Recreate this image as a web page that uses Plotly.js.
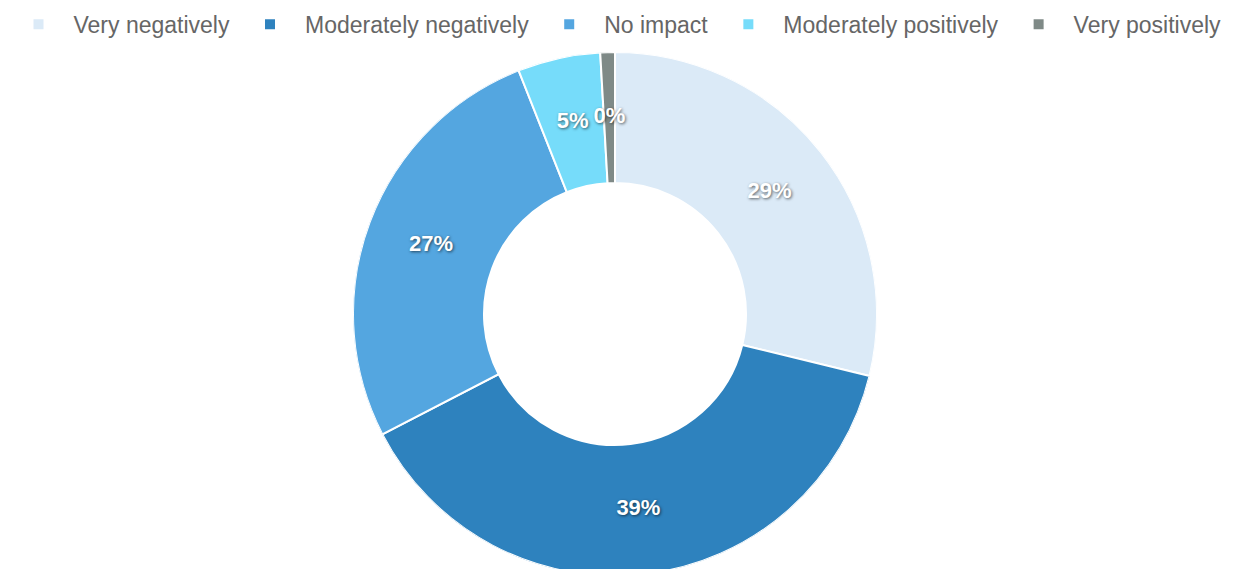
<!DOCTYPE html>
<html>
<head>
<meta charset="utf-8">
<script src="https://cdn.plot.ly/plotly-3.0.1.min.js"></script>
<style>
html,body{margin:0;padding:0;overflow:hidden;background:#fff;}
#chart{width:1235px;height:600px;}
</style>
</head>
<body>
<div id="chart"></div>
<script>
const categories = ["Very negatively", "Moderately negatively", "No impact", "Moderately positively", "Very positively"];
const shares = [28.8, 38.6, 26.6, 5.1, 0.9];
const shareLabels = ["29%", "39%", "27%", "5%", "0%"];
const colors = ["#dbeaf7", "#2e82be", "#54a6e0", "#76dcfa", "#7f8a87"];

const HOLE = 0.5;
const total = shares.reduce((a, b) => a + b, 0);
const midAngles = [], spans = [];
let cum = 0;
for (const s of shares) {
  spans.push(s / total * 360);
  midAngles.push((cum + s / 2) / total * 360);
  cum += s;
}

const traces = categories.map((c, i) => ({
  type: "barpolar",
  name: c,
  theta: [midAngles[i]],
  width: [spans[i]],
  r: [1 - HOLE],
  base: [HOLE],
  marker: { color: colors[i], line: { color: "#ffffff", width: 2 } },
  hoverinfo: "name"
}));

traces.push({
  type: "scatterpolar",
  mode: "text",
  r: shares.map(() => (1 + HOLE) / 2),
  theta: midAngles,
  text: shareLabels,
  textposition: "middle center",
  showlegend: false,
  hoverinfo: "skip",
  textfont: { family: "Liberation Sans, Arial, sans-serif", size: 22, color: "#ffffff", weight: "bold", shadow: "1px 1px 3px rgba(0,0,0,0.6)" }
});

const layout = {
  width: 1235,
  height: 600,
  margin: { l: 0, r: 5, t: 52, b: 24 },
  paper_bgcolor: "#ffffff",
  showlegend: true,
  polar: {
    domain: { x: [0, 1], y: [0, 1] },
    bgcolor: "rgba(0,0,0,0)",
    bargap: 0,
    radialaxis: { range: [0, 1], visible: false, showgrid: false },
    angularaxis: { direction: "clockwise", rotation: 90, visible: false, showgrid: false }
  },
  legend: {
    orientation: "h",
    x: 0.5, xanchor: "center",
    y: 1.053, yanchor: "middle",
    itemwidth: 60,
    font: { family: "Liberation Sans, Arial, sans-serif", size: 23, color: "#666666" },
    traceorder: "normal"
  }
};

Plotly.newPlot("chart", traces, layout, { displayModeBar: false, staticPlot: true });
</script>
</body>
</html>
